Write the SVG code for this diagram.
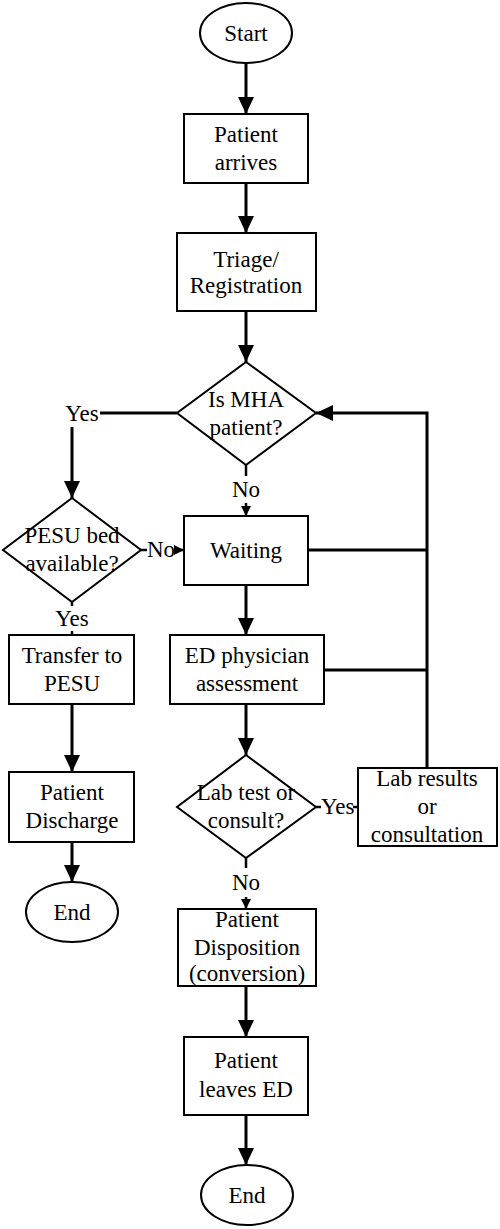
<svg xmlns="http://www.w3.org/2000/svg" width="500" height="1229" viewBox="0 0 500 1229" font-family="Liberation Serif, Times New Roman, serif" font-size="23">
<style>
.shape{fill:#fff;stroke:#000;stroke-width:2}
.t{fill:#000;text-anchor:middle}
.ts{fill:#000}
.c{fill:none;stroke:#000;stroke-width:3}
.cs{fill:none;stroke:#000;stroke-width:2.5}
</style>
<defs>
<marker id="big" markerUnits="userSpaceOnUse" markerWidth="17" markerHeight="16" refX="17" refY="8" orient="auto"><path d="M0,0 L17,8 L0,16 z" fill="#000"/></marker>
<marker id="small" markerUnits="userSpaceOnUse" markerWidth="10" markerHeight="10" refX="10" refY="5" orient="auto"><path d="M0,0 L10,5 L0,10 z" fill="#000"/></marker>
</defs>
<rect width="500" height="1229" fill="#fff"/>
<g id="connectors">
<line class="c" x1="246" y1="63" x2="246" y2="114" marker-end="url(#big)"/>
<line class="c" x1="246" y1="183" x2="246" y2="233" marker-end="url(#big)"/>
<line class="c" x1="246" y1="311" x2="246" y2="362" marker-end="url(#big)"/>
<line class="c" x1="177" y1="413" x2="100" y2="413"/>
<text class="t" x="82" y="421">Yes</text>
<line class="c" x1="72" y1="427" x2="72" y2="498" marker-end="url(#big)"/>
<line class="cs" x1="246" y1="465" x2="246" y2="476"/>
<text class="t" x="246" y="497">No</text>
<line class="cs" x1="246" y1="503" x2="246" y2="516" marker-end="url(#small)"/>
<line class="cs" x1="141" y1="550" x2="147" y2="550"/>
<text class="ts" x="147" y="557">No</text>
<line class="cs" x1="175" y1="550" x2="184" y2="550" marker-end="url(#small)"/>
<line class="cs" x1="72" y1="602" x2="72" y2="606"/>
<text class="t" x="72" y="626">Yes</text>
<line class="cs" x1="72" y1="631" x2="72" y2="635"/>
<line class="c" x1="72" y1="704" x2="72" y2="772" marker-end="url(#big)"/>
<line class="c" x1="72" y1="842" x2="72" y2="882" marker-end="url(#big)"/>
<line class="c" x1="246" y1="585" x2="246" y2="635" marker-end="url(#big)"/>
<line class="c" x1="246" y1="704" x2="246" y2="755" marker-end="url(#big)"/>
<line class="cs" x1="246" y1="858" x2="246" y2="868"/>
<text class="t" x="246" y="890">No</text>
<line class="cs" x1="246" y1="897" x2="246" y2="909" marker-end="url(#small)"/>
<line class="cs" x1="316" y1="807" x2="321" y2="807"/>
<text class="ts" x="321" y="814">Yes</text>
<line class="cs" x1="353" y1="807" x2="358" y2="807"/>
<polyline class="c" points="427,768 427,413 316,413" marker-end="url(#big)"/>
<line class="c" x1="308" y1="550" x2="427" y2="550"/>
<line class="c" x1="324" y1="670" x2="427" y2="670"/>
<line class="c" x1="246" y1="986" x2="246" y2="1037" marker-end="url(#big)"/>
<line class="c" x1="246" y1="1115" x2="246" y2="1165" marker-end="url(#big)"/>
</g>
<g id="start"><ellipse class="shape" cx="246" cy="33" rx="46" ry="30"/><text class="t" x="246" y="41">Start</text></g>
<g id="patient-arrives"><rect class="shape" x="184" y="114" width="124" height="69"/><text class="t" x="246" y="142">Patient</text><text class="t" x="246" y="170">arrives</text></g>
<g id="triage"><rect class="shape" x="177" y="233" width="139" height="78"/><text class="t" x="246" y="267">Triage/</text><text class="t" x="246" y="293">Registration</text></g>
<g id="is-mha"><polygon class="shape" points="246,362 316,413 246,465 177,413"/><text class="t" x="246" y="407">Is MHA</text><text class="t" x="246" y="435">patient?</text></g>
<g id="pesu-bed"><polygon class="shape" points="72,498 141,550 72,602 3,550"/><text class="t" x="72" y="543">PESU bed</text><text class="t" x="72" y="571">available?</text></g>
<g id="waiting"><rect class="shape" x="184" y="516" width="124" height="69"/><text class="t" x="246" y="558">Waiting</text></g>
<g id="transfer"><rect class="shape" x="9" y="635" width="125" height="69"/><text class="t" x="72" y="663">Transfer to</text><text class="t" x="72" y="691">PESU</text></g>
<g id="discharge"><rect class="shape" x="9" y="772" width="125" height="70"/><text class="t" x="72" y="800">Patient</text><text class="t" x="72" y="828">Discharge</text></g>
<g id="end-left"><ellipse class="shape" cx="72" cy="912" rx="46" ry="30"/><text class="t" x="72" y="920">End</text></g>
<g id="ed-physician"><rect class="shape" x="170" y="635" width="154" height="69"/><text class="t" x="247" y="663">ED physician</text><text class="t" x="247" y="691">assessment</text></g>
<g id="lab-test"><polygon class="shape" points="246,755 316,807 246,858 177,807"/><text class="t" x="246" y="800">Lab test or</text><text class="t" x="246" y="828">consult?</text></g>
<g id="lab-results"><rect class="shape" x="358" y="768" width="139" height="78"/><text class="t" x="427" y="786">Lab results</text><text class="t" x="427" y="814">or</text><text class="t" x="427" y="842">consultation</text></g>
<g id="disposition"><rect class="shape" x="178" y="909" width="138" height="77"/><text class="t" x="247" y="927">Patient</text><text class="t" x="247" y="955">Disposition</text><text class="t" x="247" y="981">(conversion)</text></g>
<g id="leaves-ed"><rect class="shape" x="184" y="1037" width="124" height="78"/><text class="t" x="246" y="1068">Patient</text><text class="t" x="246" y="1097">leaves ED</text></g>
<g id="end-bottom"><ellipse class="shape" cx="247" cy="1195" rx="46" ry="30"/><text class="t" x="247" y="1203">End</text></g>
</svg>
